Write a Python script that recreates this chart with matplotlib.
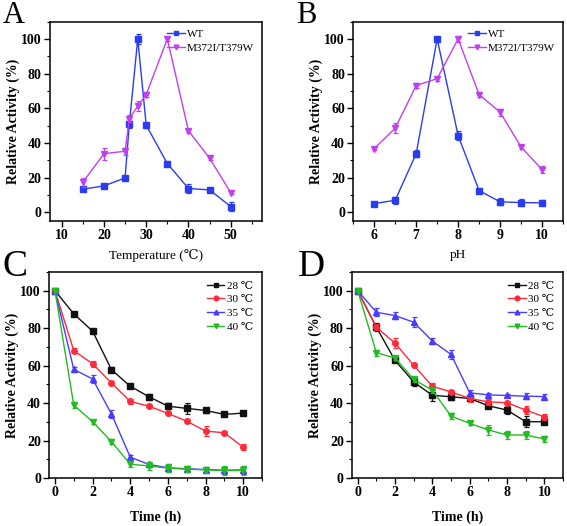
import matplotlib
matplotlib.use("Agg")
from matplotlib import pyplot as plt
from matplotlib.ticker import MultipleLocator

plt.rcParams['font.family'] = ['Liberation Serif', 'DejaVu Serif', 'DejaVu Sans']

# panel A: temperature profile
temp = [15, 20, 25, 26, 28, 30, 35, 40, 45, 50]
temp_wt = [13.3, 15.2, 19.8, 50.8, 100, 50.2, 28.1, 13.7, 12.9, 3.3]
temp_wt_err = [1.2, 1.0, 1.2, 2.0, 3.0, 1.5, 1.0, 2.5, 1.0, 2.5]
temp_mut = [17.3, 33.8, 35.2, 54.0, 61.2, 67.9, 100, 47.0, 31.2, 11.3]
temp_mut_err = [2.5, 3.5, 2.0, 2.0, 3.0, 1.5, 1.0, 1.0, 1.0, 1.0]

# panel B: pH profile
ph = [6, 6.5, 7, 7.5, 8, 8.5, 9, 9.5, 10]
ph_wt = [5.0, 6.9, 33.8, 100, 44.2, 12.5, 6.0, 5.6, 5.4]
ph_wt_err = [1.0, 2.0, 2.0, 0.8, 2.5, 1.0, 2.0, 2.0, 1.5]
ph_mut = [36.7, 48.5, 73.1, 77.1, 100, 67.9, 57.7, 37.7, 24.6]
ph_mut_err = [1.0, 3.0, 1.5, 1.5, 1.5, 1.5, 2.0, 1.0, 2.0]

# panels C / D: thermostability
hours = list(range(0, 11))
temp_labels = ['28 ℃', '30 ℃', '35 ℃', '40 ℃']
wt_stab = [
    [100, 87.6, 78.4, 57.9, 49.0, 43.4, 38.4, 37.2, 36.1, 34.0, 34.7],
    [100, 68.0, 61.0, 50.8, 40.9, 38.4, 34.5, 30.4, 25.1, 24.2, 16.5],
    [100, 58.0, 52.9, 34.3, 11.2, 7.3, 5.5, 5.0, 4.6, 4.2, 4.4],
    [100, 38.9, 30.1, 19.5, 7.4, 6.5, 5.3, 4.8, 4.4, 4.1, 4.1],
]
wt_stab_err = [
    [0.5, 1.0, 0.8, 1.5, 0.8, 1.5, 1.5, 3.0, 1.5, 0.8, 1.0],
    [0.5, 1.5, 1.5, 1.0, 1.5, 1.0, 1.0, 1.0, 2.5, 1.0, 1.5],
    [0.5, 1.5, 2.0, 2.0, 1.0, 1.5, 2.0, 1.5, 1.5, 2.0, 2.0],
    [0.5, 1.5, 1.0, 1.5, 1.5, 2.0, 2.0, 1.5, 1.5, 2.5, 2.5],
]
mut_stab = [
    [100, 80.5, 62.8, 51.3, 44.2, 43.4, 42.5, 38.6, 36.3, 30.1, 30.1],
    [100, 80.5, 72.0, 60.2, 49.0, 46.0, 42.5, 40.7, 40.2, 36.3, 32.7],
    [100, 88.5, 86.7, 83.2, 73.1, 66.0, 45.5, 44.4, 44.1, 43.7, 43.5],
    [100, 66.9, 64.1, 52.7, 46.9, 33.1, 29.2, 25.7, 23.0, 23.0, 20.9],
]
mut_stab_err = [
    [0.5, 2.0, 1.0, 2.0, 3.0, 1.5, 1.5, 1.0, 2.0, 3.0, 1.0],
    [0.5, 1.5, 2.5, 1.0, 1.5, 1.0, 2.0, 1.5, 1.0, 2.0, 1.5],
    [0.5, 2.0, 2.0, 2.5, 1.5, 2.5, 1.5, 1.0, 1.0, 1.5, 1.5],
    [0.5, 1.5, 1.0, 1.5, 1.5, 1.5, 1.0, 2.5, 2.0, 2.0, 1.5],
]

stab_colors = ['#111111', '#ff2a3a', '#4a3cff', '#22bb22']
stab_markers = ['s', 'o', '^', 'v']
wt_color = '#2a3cf0'
mut_color = '#c040f0'

fig = plt.figure(figsize=(5.67, 5.26), dpi=100)
axA = fig.add_axes([0.088, 0.580, 0.374, 0.379])
axB = fig.add_axes([0.623, 0.580, 0.370, 0.379])
axC = fig.add_axes([0.087, 0.091, 0.375, 0.392])
axD = fig.add_axes([0.621, 0.091, 0.372, 0.392])


def style(ax):
    for s in ax.spines.values():
        s.set_linewidth(1.1)
    ax.tick_params(which='major', direction='out', length=4, width=1.0,
                   top=False, right=False, pad=2)
    ax.tick_params(which='minor', direction='out', length=2, width=0.8,
                   top=False, right=False)
    for lab in ax.get_xticklabels() + ax.get_yticklabels():
        lab.set_fontweight('bold')
        lab.set_fontsize(10)
    ax.set_ylabel('Relative Activity (%)', fontweight='bold', fontsize=10, labelpad=1)


def series(ax, x, y, err, color, marker, label):
    ax.errorbar(x, y, yerr=err, fmt='none', ecolor=color,
                elinewidth=0.9, capsize=1.8, capthick=0.9)
    ax.plot(x, y, color=color, marker=marker, ms=4, lw=1.0, label=label)


# A
series(axA, temp, temp_wt, temp_wt_err, wt_color, 's', 'WT')
series(axA, temp, temp_mut, temp_mut_err, mut_color, 'v', 'M372I/T379W')
axA.set_xlim(7.2, 57.4)
axA.set_ylim(-5, 110)
axA.set_xticks([10, 20, 30, 40, 50])
axA.set_yticks([0, 20, 40, 60, 80, 100])
axA.xaxis.set_minor_locator(MultipleLocator(5))
axA.yaxis.set_minor_locator(MultipleLocator(10))
style(axA)
axA.set_xlabel('Temperature (℃)', fontsize=9.5, labelpad=5)

# B
series(axB, ph, ph_wt, ph_wt_err, wt_color, 's', 'WT')
series(axB, ph, ph_mut, ph_mut_err, mut_color, 'v', 'M372I/T379W')
axB.set_xlim(5.5, 10.5)
axB.set_ylim(-5, 110)
axB.set_xticks([6, 7, 8, 9, 10])
axB.set_yticks([0, 20, 40, 60, 80, 100])
axB.xaxis.set_minor_locator(MultipleLocator(0.5))
axB.yaxis.set_minor_locator(MultipleLocator(10))
style(axB)
axB.set_xlabel('pH', fontsize=9.5, labelpad=5)

for ax in (axA, axB):
    ax.legend(loc='upper right', frameon=False, handlelength=1.6, markerscale=0.85,
              handletextpad=0.2, labelspacing=0.35, borderaxespad=0.3,
              prop={'family': ['Liberation Serif'], 'size': 8})

# C and D
for ax, data, errs in ((axC, wt_stab, wt_stab_err), (axD, mut_stab, mut_stab_err)):
    for vals, e, c, m, lab in zip(data, errs, stab_colors, stab_markers, temp_labels):
        series(ax, hours, vals, e, c, m, lab)
    ax.set_xlim(-0.3, 11)
    ax.set_ylim(0, 110)
    ax.set_xticks([0, 2, 4, 6, 8, 10])
    ax.set_yticks([0, 20, 40, 60, 80, 100])
    ax.xaxis.set_minor_locator(MultipleLocator(1))
    ax.yaxis.set_minor_locator(MultipleLocator(10))
    style(ax)
    ax.set_xlabel('Time (h)', fontweight='bold', fontsize=10, labelpad=8)
    ax.legend(loc='upper right', frameon=False, handlelength=1.6, markerscale=0.85,
              handletextpad=0.2, labelspacing=0.35, borderaxespad=0.4,
              prop={'family': ['Liberation Serif', 'DejaVu Serif'], 'size': 8})

# panel letters
fig.text(0.004, 0.956, 'A', fontsize=22, family='Liberation Serif')
fig.text(0.522, 0.956, 'B', fontsize=22, family='Liberation Serif')
fig.text(0.004, 0.476, 'C', fontsize=27, family='Liberation Serif')
fig.text(0.525, 0.476, 'D', fontsize=27, family='Liberation Serif')

fig.savefig('out.png', dpi=100)
